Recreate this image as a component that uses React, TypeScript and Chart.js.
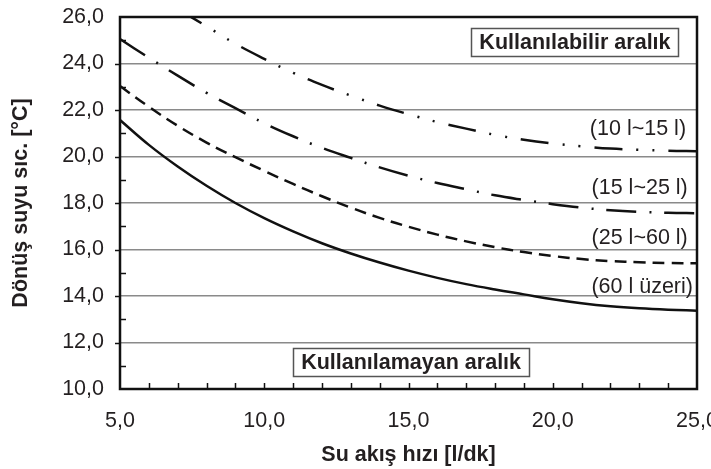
import { useEffect, useRef } from "react";
import { Chart, registerables } from "chart.js";

Chart.register(...registerables);

const FONT = "'Liberation Sans', Arial, Helvetica, sans-serif";
const TEXT_COLOR = "#231f20";
const FS = 21.5;

// Su akış hızı [l/dk]
const flowRates = [5, 6, 7, 8, 9, 10, 11, 12, 13, 14, 15, 16, 17, 18, 19, 20, 21, 22, 23, 24, 25];
// Dönüş suyu sıcaklığı [°C] per tank volume class
const return60Plus = [21.57, 20.5, 19.57, 18.74, 18.0, 17.35, 16.78, 16.27, 15.83, 15.44, 15.09, 14.78, 14.51, 14.28, 14.07, 13.86, 13.69, 13.56, 13.47, 13.41, 13.37];
const return25to60 = [23.03, 22.14, 21.32, 20.6, 19.97, 19.38, 18.82, 18.29, 17.8, 17.36, 16.98, 16.64, 16.35, 16.1, 15.89, 15.72, 15.59, 15.5, 15.45, 15.42, 15.41];
const return15to25 = [25.05, 24.25, 23.48, 22.74, 22.08, 21.43, 20.87, 20.37, 19.94, 19.53, 19.17, 18.86, 18.59, 18.33, 18.13, 17.95, 17.8, 17.69, 17.62, 17.58, 17.56];
const return10to15 = [null, null, 26.35, 25.6, 24.85, 24.2, 23.6, 23.08, 22.62, 22.19, 21.82, 21.48, 21.2, 20.93, 20.72, 20.56, 20.44, 20.34, 20.29, 20.25, 20.23];

const seriesNames = ["(10 l~15 l)", "(15 l~25 l)", "(25 l~60 l)", "(60 l üzeri)"];
const xTitle = "Su akış hızı [l/dk]";
const yTitle = "Dönüş suyu sıc. [°C]";
const usableLabel = "Kullanılabilir aralık";
const unusableLabel = "Kullanılamayan aralık";

// label anchors in data coordinates
const seriesLabelAnchors = [
  { x: 24.62, y: 21.16 },
  { x: 24.68, y: 18.65 },
  { x: 24.68, y: 16.5 },
  { x: 24.86, y: 14.39 },
];
const usableBoxAnchor = { x: 20.77, y: 24.92 };
const unusableBoxAnchor = { x: 15.09, y: 11.14 };

const fmt = (v: number) => Number(v).toFixed(1).replace(".", ",");

const decorPlugin = {
  id: "decor",
  afterDraw(chart: any) {
    const { ctx, chartArea: a, scales } = chart;
    const xs = scales.x;
    const ys = scales.y;
    ctx.save();
    ctx.strokeStyle = "#111";
    ctx.lineWidth = 1.5;
    // inside ticks y
    for (let v = 11; v < 26; v++) {
      const py = Math.round(ys.getPixelForValue(v)) + 0.5;
      ctx.beginPath();
      if (v % 2 === 0) {
        ctx.moveTo(a.left - 5, py);
        ctx.lineTo(a.left + 1, py);
      } else {
        ctx.moveTo(a.left, py);
        ctx.lineTo(a.left + 6, py);
      }
      ctx.stroke();
    }
    // inside ticks x
    for (let v = 6; v < 25; v++) {
      const px = Math.round(xs.getPixelForValue(v)) + 0.5;
      ctx.beginPath();
      ctx.moveTo(px, a.bottom);
      ctx.lineTo(px, a.bottom - 6);
      ctx.stroke();
    }
    // frame
    ctx.lineWidth = 2.5;
    ctx.strokeStyle = "#111";
    ctx.strokeRect(a.left, a.top, a.right - a.left, a.bottom - a.top);

    // series labels
    ctx.font = `${FS}px ${FONT}`;
    ctx.fillStyle = TEXT_COLOR;
    ctx.textAlign = "right";
    ctx.textBaseline = "middle";
    seriesNames.forEach((name, i) => {
      const p = seriesLabelAnchors[i];
      ctx.fillText(name, xs.getPixelForValue(p.x), ys.getPixelForValue(p.y));
    });

    // boxes
    const drawBox = (text: string, anchor: { x: number; y: number }) => {
      ctx.font = `bold ${FS}px ${FONT}`;
      const w = ctx.measureText(text).width + 16;
      const h = 28;
      const cx = xs.getPixelForValue(anchor.x);
      const cy = ys.getPixelForValue(anchor.y);
      ctx.fillStyle = "#fff";
      ctx.fillRect(cx - w / 2, cy - h / 2, w, h);
      ctx.strokeStyle = "#555";
      ctx.lineWidth = 1.5;
      ctx.strokeRect(Math.round(cx - w / 2) + 0.5, Math.round(cy - h / 2) + 0.5, Math.round(w), h);
      ctx.fillStyle = TEXT_COLOR;
      ctx.textAlign = "center";
      ctx.textBaseline = "middle";
      ctx.fillText(text, cx, cy + 1);
    };
    drawBox(usableLabel, usableBoxAnchor);
    drawBox(unusableLabel, unusableBoxAnchor);
    ctx.restore();
  },
};

export default function App() {
  const ref = useRef<HTMLCanvasElement>(null);
  useEffect(() => {
    if (!ref.current) return;
    const mk = (data: (number | null)[], dash: number[]) => ({
      data: flowRates.map((x, i) => ({ x, y: data[i] })),
      borderColor: "#111",
      borderWidth: 2.5,
      borderDash: dash,
      borderCapStyle: "butt" as const,
      pointRadius: 0,
      fill: false,
      tension: 0.4,
      spanGaps: false,
      clip: 0,
    });
    const chart = new Chart(ref.current, {
      type: "line",
      data: {
        datasets: [
          mk(return10to15, [28, 14, 2, 14, 2, 14]),
          mk(return15to25, [30, 13, 2, 13]),
          mk(return25to60, [12, 7]),
          mk(return60Plus, []),
        ],
      },
      options: {
        animation: false,
        responsive: false,
        devicePixelRatio: 1,
        layout: { padding: { left: 0, right: 14, top: 17, bottom: 0 } },
        plugins: { legend: { display: false }, tooltip: { enabled: false } },
        scales: {
          x: {
            type: "linear",
            min: 5,
            max: 25,
            grid: { display: false, drawTicks: false },
            border: { display: false },
            ticks: {
              stepSize: 5,
              maxRotation: 0,
              padding: 19,
              color: TEXT_COLOR,
              font: { family: FONT, size: FS },
              callback: (v: any) => fmt(v),
            },
            title: {
              display: true,
              text: xTitle,
              color: TEXT_COLOR,
              font: { family: FONT, size: FS, weight: "bold" },
              padding: { top: 0, bottom: 1 },
            },
            afterFit: (s: any) => {
              s.height = 80;
              s.paddingLeft = 0;
              s.paddingRight = 0;
            },
          },
          y: {
            type: "linear",
            min: 10,
            max: 26,
            grid: { color: "#8a8a8a", lineWidth: 1.5, drawTicks: false },
            border: { display: false },
            ticks: {
              stepSize: 2,
              padding: 16,
              color: TEXT_COLOR,
              font: { family: FONT, size: FS },
              callback: (v: any) => fmt(v),
            },
            title: {
              display: true,
              text: yTitle,
              color: TEXT_COLOR,
              font: { family: FONT, size: FS, weight: "bold" },
              padding: { top: 8, bottom: 0 },
            },
            afterFit: (s: any) => {
              s.width = 120;
              s.paddingTop = 0;
              s.paddingBottom = 0;
            },
          },
        },
      },
      plugins: [decorPlugin],
    } as any);
    return () => chart.destroy();
  }, []);
  return (
    <div style={{ position: "absolute", left: 0, top: 0, width: 711, height: 469, background: "#fff" }}>
      <canvas ref={ref} width={711} height={469} style={{ width: 711, height: 469, display: "block" }} />
    </div>
  );
}
